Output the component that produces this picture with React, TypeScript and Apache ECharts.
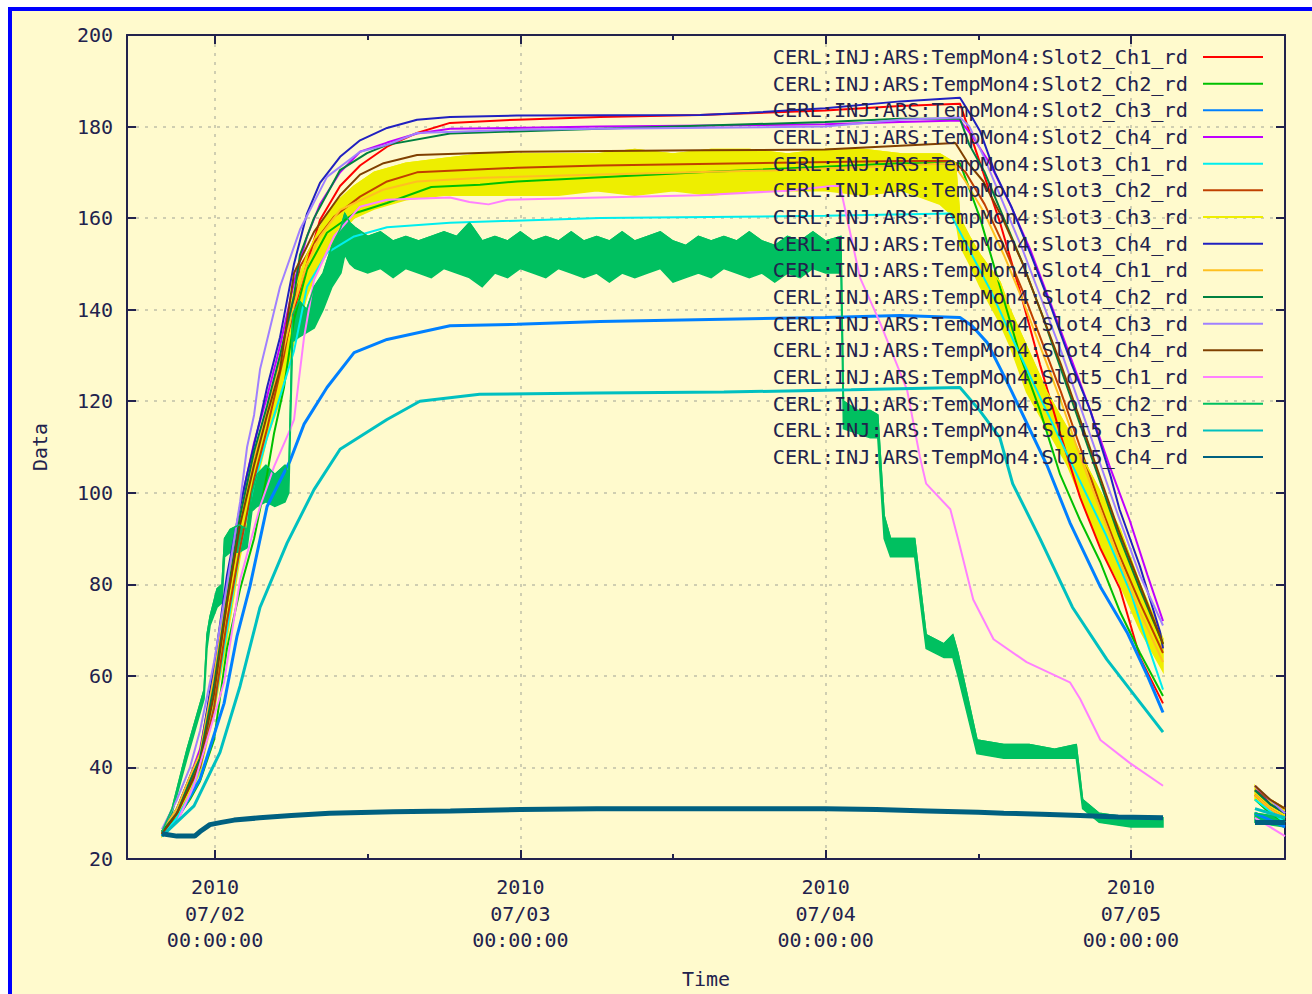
import React, { useEffect, useRef } from 'react';
import * as echarts from 'echarts';

const NAMES = [
  'CERL:INJ:ARS:TempMon4:Slot2_Ch1_rd',
  'CERL:INJ:ARS:TempMon4:Slot2_Ch2_rd',
  'CERL:INJ:ARS:TempMon4:Slot2_Ch3_rd',
  'CERL:INJ:ARS:TempMon4:Slot2_Ch4_rd',
  'CERL:INJ:ARS:TempMon4:Slot3_Ch1_rd',
  'CERL:INJ:ARS:TempMon4:Slot3_Ch2_rd',
  'CERL:INJ:ARS:TempMon4:Slot3_Ch3_rd',
  'CERL:INJ:ARS:TempMon4:Slot3_Ch4_rd',
  'CERL:INJ:ARS:TempMon4:Slot4_Ch1_rd',
  'CERL:INJ:ARS:TempMon4:Slot4_Ch2_rd',
  'CERL:INJ:ARS:TempMon4:Slot4_Ch3_rd',
  'CERL:INJ:ARS:TempMon4:Slot4_Ch4_rd',
  'CERL:INJ:ARS:TempMon4:Slot5_Ch1_rd',
  'CERL:INJ:ARS:TempMon4:Slot5_Ch2_rd',
  'CERL:INJ:ARS:TempMon4:Slot5_Ch3_rd',
  'CERL:INJ:ARS:TempMon4:Slot5_Ch4_rd',
];

const COLORS = [
  '#ff0000', '#00c000', '#0080ff', '#c000ff', '#00eeee', '#c04000', '#eeee00', '#2020c0',
  '#ffc020', '#008040', '#a080ff', '#804000', '#ff80ff', '#00c060', '#00c0c0', '#006080',
];

// x: hours since 2010-07-02 00:00:00, y: temperature reading
const X_MIN = -6.92;
const X_MAX = 84.11;
const DAY_TICKS = [0, 24, 48, 72];
const HALF_DAY_TICKS = [12, 36, 60];
const Y_MIN = 20;
const Y_MAX = 200;
const Y_STEP = 20;

const slot2ch1 = [[-4.17,25.5],[-2.99,30],[-1.97,37],[-1.18,42],[-0.08,58],[0.94,76],[1.97,94],[3.07,108],[4.09,118],[5.11,128],[6.21,140],[7.23,150],[8.25,159.6],[9.83,167],[11.4,171.5],[13.52,175.6],[15.88,178.6],[18.47,180.8],[23.74,181.5],[30.26,182.1],[38.13,182.5],[47.95,183.5],[53.85,184.5],[58.56,185],[60.14,172],[61.71,159],[63.28,144],[64.85,128],[66.43,113],[68.0,99],[69.57,88],[71.14,79],[72.71,64],[74.52,54],[78,'-'],[81.75,34],[82.93,31],[84.11,29]];
const slot2ch2 = [[-4.17,26],[-2.99,29],[-1.97,33],[-1.18,37],[-0.08,46],[0.94,66],[1.97,79],[3.07,90],[4.09,104],[4.64,113],[5.42,123],[6.21,137.8],[7.23,148.7],[8.8,156.8],[10.93,161],[13.52,163.3],[17.0,166.8],[20.83,167.3],[23.74,168],[38.13,170],[53.85,172],[58.56,172],[60.14,160],[61.71,145],[63.28,130],[64.85,118],[66.43,104],[68.0,94],[69.57,85],[71.14,74],[72.71,65],[74.52,55.6],[78,'-'],[81.75,33],[82.93,30],[84.11,28]];
const slot2ch3 = [[-4.17,25],[-2.99,28.7],[-1.18,37.5],[0.71,54],[1.73,68.7],[2.75,79.6],[4.09,97],[5.9,107],[7.0,115],[8.8,123],[10.93,130.6],[13.52,133.5],[18.47,136.5],[23.74,136.8],[30.26,137.4],[47.95,138.3],[53.85,138.7],[58.56,138.3],[59.5,136.5],[60.7,132.8],[62.3,124],[63.8,115.3],[65.4,106],[67.2,93.5],[69.57,79.6],[71.7,69.5],[73.3,60],[74.52,52],[78,'-'],[81.75,30],[82.93,28.5],[84.11,27]];
const slot2ch4 = [[-4.17,26],[-2.99,31],[-1.97,38],[-1.18,44],[-0.08,60],[0.94,78],[1.97,97],[3.07,111],[4.09,121],[5.11,132],[6.21,146],[7.23,156],[8.25,163],[9.83,170],[11.4,174.5],[13.52,176.5],[15.88,178.5],[18.47,179.5],[30.26,180],[47.95,180.5],[53.85,181],[58.56,181.3],[59.5,178],[60.9,172],[62.5,163],[64.1,153],[65.6,142],[67.2,130],[68.8,118],[70.3,106],[71.9,94],[73.3,82],[74.52,72],[78,'-'],[81.75,36],[82.93,32],[84.11,30]];
const slot3ch1 = [[-4.17,25],[-2.99,29],[-1.97,34],[-1.18,40],[-0.08,53],[0.94,70],[1.97,88],[3.07,102],[4.09,112],[5.11,121],[6.21,131],[7.23,145],[8.8,152.4],[10.93,156],[13.52,158],[18.47,159],[30.26,160],[47.95,160.5],[57.8,161],[59.3,153],[61.0,144],[62.8,133],[65.0,120],[67.4,106],[70.0,91],[72.0,78],[73.3,67],[74.52,57],[78,'-'],[81.75,33],[82.93,30.5],[84.11,28]];
const slot3ch2 = [[-4.17,25.5],[-2.99,30],[-1.97,36],[-1.18,40],[-0.08,53],[0.94,72],[1.97,88],[3.07,103],[4.09,114],[5.42,130],[6.68,149.4],[7.78,154.6],[9.35,160.3],[11.4,164.7],[13.52,168],[15.88,170],[23.74,171],[30.26,171.5],[53.85,172.5],[58.0,172.5],[59.0,170],[60.5,163],[62.0,154],[63.5,144],[65.0,133],[66.5,122],[68.0,110],[69.5,98],[71.0,87],[72.7,76],[74.52,65],[78,'-'],[81.75,35],[82.93,33],[84.11,31]];
// [hour, low, high] envelope of the dense noisy trace
const slot3ch3 = [[-4.17,25,26],[-2.99,29,31],[-1.97,34,38],[-1.18,39,43],[-0.08,52,58],[0.94,68,76],[1.97,86,94],[3.07,100,108],[4.09,112,118],[5.11,120,130],[6.21,133,144],[7.23,143,152],[8.25,150,158],[9.35,155,163],[10.93,160,167],[12.5,162,170],[15.0,164,172],[18.0,165,173],[21.0,165,174],[24.0,165,174],[27.0,165,174],[30.0,166,174],[33.0,165,175],[36.0,166,174],[39.0,165,175],[42.0,166,175],[45.0,166,174],[48.0,166,175],[51.0,165,175],[54.0,166,174],[57.0,163,174],[58.2,160,172],[58.56,154,160],[59.3,150,156],[60.14,145,152],[61.71,137,146],[62.5,132,140],[63.8,122,132],[65.4,114,122],[67.0,106,114],[68.5,96,106],[70.0,86,98],[71.14,80,92],[72.71,70,80],[74.52,61,68],[78,'-','-'],[81.75,33,36],[82.93,30,33],[84.11,28,31]];
const slot3ch4 = [[-4.17,26],[-2.99,31],[-1.97,38],[-1.18,43],[-0.08,62],[0.94,82],[1.97,97],[2.52,104],[3.54,116],[4.09,123],[5.11,134],[6.21,150],[7.23,161],[8.25,167.7],[9.83,173.4],[11.4,177],[13.52,179.7],[15.88,181.5],[18.47,182.1],[23.74,182.4],[38.13,182.5],[42.0,183],[47.95,184],[53.85,185.5],[58.56,186.3],[59.3,183],[60.14,179],[61.3,170],[62.6,162.5],[64.2,151.6],[65.7,140.7],[67.3,128.4],[68.8,118],[70.4,103.6],[71.1,96.4],[72.7,84],[74.3,69.5],[74.52,66],[78,'-'],[81.75,35],[82.93,32],[84.11,30]];
const slot4ch1 = [[-4.17,26],[-2.99,31],[-1.97,38],[-1.18,43],[-0.08,60],[0.94,78],[1.97,95],[3.07,108],[4.09,118],[5.11,128],[6.21,141],[7.23,150],[8.25,156],[9.83,161.8],[13.2,166.2],[15.88,168],[21.0,168.8],[30.26,169.5],[45.0,170.5],[53.85,171.5],[58.0,172],[59.0,168],[60.5,161],[62.0,152],[63.5,142],[65.0,131],[66.5,120],[68.0,108],[69.5,97],[71.0,86],[72.7,74],[74.52,63],[78,'-'],[81.75,34],[82.93,31],[84.11,29]];
const slot4ch2 = [[-4.17,26],[-2.99,30],[-1.97,37],[-1.18,42],[-0.08,58],[0.94,77],[1.97,95],[3.07,109],[4.09,119],[5.11,130],[6.21,143],[6.68,152],[7.78,160],[9.83,170.5],[11.95,174.2],[13.52,176],[18.47,178.5],[30.26,179.5],[47.95,181],[53.85,181.7],[58.56,181.7],[59.3,176],[60.5,170],[62.0,160],[63.5,150],[65.0,139],[66.5,127],[68.0,115],[69.5,103],[71.0,91],[72.7,79],[74.52,67],[78,'-'],[81.75,35],[82.93,32],[84.11,30]];
const slot4ch3 = [[-4.17,26.5],[-2.99,33],[-1.97,40],[-1.18,48],[-0.08,63],[0.94,80],[1.97,98],[2.52,110],[3.07,117],[3.54,127],[5.11,145],[6.68,157.5],[8.8,169],[11.4,174.5],[13.52,176],[15.88,178.6],[23.74,179.3],[30.26,179.5],[47.95,180],[53.85,181.5],[58.56,182],[59.3,180],[60.5,173],[62.0,163],[63.5,153],[65.0,142],[66.5,131],[68.0,119],[69.5,107],[71.0,95],[72.7,82],[74.52,71],[78,'-'],[81.75,36],[82.93,33],[84.11,30]];
const slot4ch4 = [[-4.17,25.5],[-2.99,30],[-1.97,36],[-1.18,41],[-0.08,56],[0.94,76],[1.97,93],[3.07,106],[4.09,117],[5.11,127],[6.21,148],[7.78,157],[9.83,165],[11.4,169.5],[13.25,172],[15.88,173.8],[23.74,174.5],[38.13,174.8],[47.95,175],[53.85,175.8],[58.2,176.4],[59.2,172],[60.4,168],[61.9,160],[63.5,150],[65.0,139],[66.5,128],[68.0,116],[69.5,104],[71.0,92],[72.7,80],[74.52,67],[78,'-'],[81.75,36],[82.93,33],[84.11,31]];
const slot5ch1 = [[-4.17,25],[-2.99,28],[-1.68,36],[0.71,58.6],[1.97,81],[3.54,97],[4.64,105.7],[5.9,113.8],[6.21,116],[7.0,134],[7.78,146.5],[9.35,156],[11.4,162.5],[13.52,164],[18.47,164.5],[20.0,163.5],[21.5,163],[23.0,164],[30.26,164.5],[38.13,165],[45.0,166],[48.5,167],[49.13,167],[50.7,147],[52.3,137],[54.4,122.5],[55.4,108],[55.9,102],[57.8,96.4],[58.4,90],[59.6,76.7],[61.2,68],[63.8,63],[67.2,58.6],[68.0,55],[69.6,46],[71.9,41],[74.52,36],[78,'-'],[81.75,29],[82.93,27],[84.11,25]];
// [hour, low, high] envelope of the dense noisy trace
const slot5ch2 = [[-4.17,25,26],[-3.38,30,31],[-2.2,42,44],[-0.86,55,57],[-0.63,66,69],[-0.39,71,73],[0.16,75,79],[0.55,76,80],[0.75,86,90],[1.2,87,92],[1.9,87,93],[2.52,88,92],[2.9,96,100],[3.3,97,104],[4.0,98,106],[4.7,97,104],[5.5,98,106],[5.8,100,104],[6.1,133,139],[6.6,134,142],[7.2,135,140],[7.8,136,145],[8.5,140,148],[9.2,145,154],[9.9,148,158],[10.2,152,161],[10.6,150,159],[11.0,149,158],[12.0,148,156],[13.0,149,157],[14.0,147,155],[15.0,149,156],[16.0,148,155],[17.0,147,156],[18.0,149,157],[19.0,148,156],[20.0,147,159],[21.0,145,155],[22.0,148,156],[23.0,147,155],[24.0,149,157],[25.0,148,155],[26.0,147,156],[27.0,149,155],[28.0,148,157],[29.0,147,155],[30.0,148,156],[31.0,146,155],[32.0,148,157],[33.0,147,155],[34.0,148,156],[35.0,149,157],[36.0,146,155],[37.0,147,154],[38.0,148,156],[39.0,147,155],[40.0,149,156],[41.0,148,155],[42.0,147,157],[43.0,148,155],[44.0,146,154],[45.0,148,156],[46.0,147,155],[47.0,149,157],[48.0,148,155],[49.2,148,156],[49.4,114,120],[50.5,113,118],[51.5,112,118],[52.1,112,117],[52.6,90,95],[53.1,86,90],[55.0,86,90],[55.9,66,69],[57.3,64,67],[58.0,64,69],[58.4,60,65],[59.9,43,46],[62.0,42,45],[64.0,42,45],[66.0,42,44],[67.7,42,45],[68.2,31,33],[69.5,28,30],[72.0,27,29],[74.52,27,29],[78,'-','-'],[81.75,28,30],[84.11,27,29]];
const slot5ch3 = [[-4.17,25],[-1.65,31.6],[0.39,43.3],[1.97,57.8],[3.54,75],[5.66,89],[7.78,100.7],[9.83,109.5],[13.52,116],[16.1,120],[20.8,121.5],[30.0,121.8],[40.0,122],[50.0,122.5],[58.56,123],[60.1,118],[61.7,112],[62.7,102],[64.85,90],[67.4,75],[70.1,63.6],[72.1,56.4],[74.52,47.7],[78,'-'],[81.75,31],[82.93,30],[84.11,29]];
const slot5ch4 = [[-4.17,25.5],[-3.0,25],[-1.6,25],[-1.18,26],[-0.4,27.5],[0.5,28],[1.5,28.5],[3.5,29],[6.0,29.5],[9.0,30],[14.0,30.3],[18.5,30.5],[24.0,30.8],[30.0,31],[40.0,31],[48.0,31],[52.0,30.8],[56.0,30.5],[60.0,30.2],[62.0,30],[65.0,29.8],[68.0,29.5],[71.0,29.2],[74.52,29],[78,'-'],[81.75,28],[82.93,28],[84.11,28]];

const LINES: any[] = [slot2ch1, slot2ch2, slot2ch3, slot2ch4, slot3ch1, slot3ch2, slot3ch3, slot3ch4,
  slot4ch1, slot4ch2, slot4ch3, slot4ch4, slot5ch1, slot5ch2, slot5ch3, slot5ch4];
const BAND_INDEX = [6, 13];
const WIDTHS = [2, 2, 3, 2, 2, 2, 2, 2, 2, 2, 2, 2, 2, 2, 3, 5];

const NAVY = '#22224d';
const FONT = 'DejaVu Sans Mono';

function splitRuns(arr: any[]) {
  const runs: any[][] = [];
  let cur: any[] = [];
  arr.forEach((p) => {
    if (p[1] === '-') { if (cur.length) runs.push(cur); cur = []; }
    else cur.push(p);
  });
  if (cur.length) runs.push(cur);
  return runs;
}

function buildSeries() {
  const out: any[] = [];
  LINES.forEach((arr, i) => {
    const color = COLORS[i];
    if (BAND_INDEX.includes(i)) {
      const runs = splitRuns(arr);
      out.push({
        name: '_band' + i, type: 'custom', silent: true, clip: true,
        data: runs.map((r, k) => [r[0][0], r[0][1], k]),
        encode: { x: 0, y: 1 },
        renderItem: (params: any, api: any) => {
          const run = runs[params.dataIndex];
          const top = run.map((p: any) => api.coord([p[0], p[2]]));
          const bot = run.map((p: any) => api.coord([p[0], p[1]])).reverse();
          return {
            type: 'polygon',
            shape: { points: top.concat(bot) },
            style: { fill: color, stroke: color, lineWidth: 1.5 },
          };
        },
      });
      out.push({
        name: NAMES[i], type: 'line', symbol: 'none',
        data: arr.map((p: any) => [p[0], p[2]]),
        lineStyle: { color, width: 1.5 }, itemStyle: { color },
      });
    } else {
      out.push({
        name: NAMES[i], type: 'line', symbol: 'none', data: arr,
        lineStyle: { color, width: WIDTHS[i] }, itemStyle: { color },
      });
    }
  });
  return out;
}

export default function App() {
  const ref = useRef<HTMLDivElement>(null);
  useEffect(() => {
    if (!ref.current) return;
    const chart = echarts.init(ref.current, null, { renderer: 'svg' });
    const tickStyle = { color: NAVY, width: 2 };
    const gridLine = { show: true, lineStyle: { color: '#c0c0a8', type: [3, 6], width: 1.5 } };
    chart.setOption({
      animation: false,
      backgroundColor: '#FFFACD',
      graphic: [
        { type: 'rect', shape: { x: 0, y: 0, width: 1312, height: 7 }, style: { fill: '#ffffff' }, silent: true },
        { type: 'rect', shape: { x: 0, y: 0, width: 8, height: 994 }, style: { fill: '#ffffff' }, silent: true },
        { type: 'rect', shape: { x: 10, y: 9, width: 1400, height: 1100 }, style: { fill: 'none', stroke: '#0000ff', lineWidth: 4 }, silent: true },
      ],
      grid: { left: 127, right: 27, top: 35, bottom: 134, containLabel: false },
      legend: {
        data: NAMES,
        orient: 'vertical',
        right: 43,
        top: 42,
        align: 'right',
        itemWidth: 60,
        itemHeight: 20,
        itemGap: 6.67,
        lineStyle: { width: 2 },
        itemStyle: { color: 'rgba(0,0,0,0)', borderWidth: 0, opacity: 0 },
        textStyle: { fontFamily: FONT, fontSize: 20.3, color: NAVY, lineHeight: 20, padding: [0, 10, 0, 0] },
        selectedMode: false,
      },
      xAxis: [
        {
          type: 'value', position: 'bottom', min: X_MIN, max: X_MAX,
          axisLine: { show: true, onZero: false, lineStyle: tickStyle },
          axisTick: { show: true, inside: true, length: 9, lineStyle: tickStyle, customValues: DAY_TICKS },
          axisLabel: {
            customValues: DAY_TICKS, fontFamily: FONT, fontSize: 20, color: NAVY, lineHeight: 26.5, margin: 15,
            formatter: (v: number) => '2010\n07/0' + (2 + Math.round(v / 24)) + '\n00:00:00',
          },
          splitLine: gridLine,
          name: 'Time', nameLocation: 'middle', nameGap: 110,
          nameTextStyle: { fontFamily: FONT, fontSize: 20, color: NAVY },
        },
        {
          type: 'value', position: 'bottom', min: X_MIN, max: X_MAX,
          axisLine: { show: false, onZero: false },
          axisTick: { show: true, inside: true, length: 5, lineStyle: tickStyle, customValues: HALF_DAY_TICKS },
          axisLabel: { show: false }, splitLine: { show: false },
        },
        {
          type: 'value', position: 'top', min: X_MIN, max: X_MAX,
          axisLine: { show: true, onZero: false, lineStyle: tickStyle },
          axisTick: { show: true, inside: true, length: 9, lineStyle: tickStyle, customValues: DAY_TICKS },
          axisLabel: { show: false }, splitLine: { show: false },
        },
        {
          type: 'value', position: 'top', min: X_MIN, max: X_MAX,
          axisLine: { show: false, onZero: false },
          axisTick: { show: true, inside: true, length: 5, lineStyle: tickStyle, customValues: HALF_DAY_TICKS },
          axisLabel: { show: false }, splitLine: { show: false },
        },
      ],
      yAxis: [
        {
          type: 'value', position: 'left', min: Y_MIN, max: Y_MAX, interval: Y_STEP,
          axisLine: { show: true, onZero: false, lineStyle: tickStyle },
          axisTick: { show: true, inside: true, length: 9, lineStyle: tickStyle },
          axisLabel: { fontFamily: FONT, fontSize: 20, color: NAVY, margin: 14 },
          splitLine: gridLine,
          name: 'Data', nameLocation: 'middle', nameGap: 77,
          nameTextStyle: { fontFamily: FONT, fontSize: 20, color: NAVY },
        },
        {
          type: 'value', position: 'right', min: Y_MIN, max: Y_MAX, interval: Y_STEP,
          axisLine: { show: true, onZero: false, lineStyle: tickStyle },
          axisTick: { show: true, inside: true, length: 9, lineStyle: tickStyle },
          axisLabel: { show: false }, splitLine: { show: false },
        },
      ],
      series: buildSeries(),
    });
    return () => chart.dispose();
  }, []);
  return <div ref={ref} style={{ position: 'absolute', left: 0, top: 0, width: 1312, height: 994 }} />;
}
